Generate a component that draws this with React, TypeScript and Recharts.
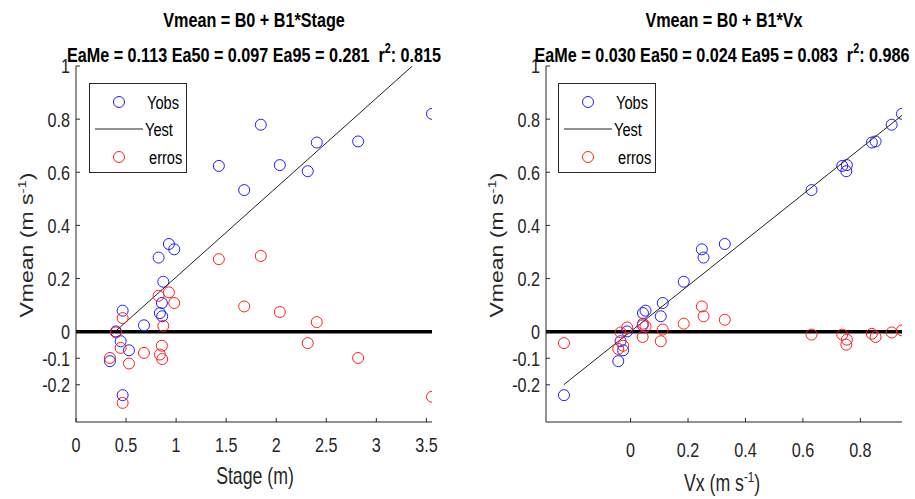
import React from 'react';
import { ScatterChart, Scatter, XAxis, YAxis, ReferenceLine } from 'recharts';

// observations (one entry per gauging)
const stage = [3.556, 1.846, 2.405, 2.818, 1.427, 2.036, 2.315, 1.68, 0.928, 0.981, 0.825, 0.872, 0.858, 0.861, 0.838, 0.466, 0.679, 0.399, 0.446, 0.529, 0.339, 0.466];
const vx = [0.945, 0.909, 0.84, 0.853, 0.737, 0.753, 0.751, 0.63, 0.328, 0.248, 0.254, 0.185, 0.112, 0.105, 0.043, 0.052, 0.042, -0.012, -0.035, -0.026, -0.043, -0.232];
const vmean = [0.82, 0.779, 0.712, 0.716, 0.624, 0.627, 0.604, 0.533, 0.33, 0.31, 0.279, 0.188, 0.108, 0.058, 0.07, 0.079, 0.024, 0.001, -0.036, -0.07, -0.111, -0.239];
const errStage = [-0.245, 0.285, 0.036, -0.099, 0.273, 0.074, -0.043, 0.095, 0.148, 0.108, 0.135, 0.022, -0.053, -0.103, -0.086, 0.051, -0.08, -0.003, -0.061, -0.12, -0.099, -0.268];
const errVx = [0.005, -0.003, -0.008, -0.02, -0.011, -0.03, -0.049, -0.011, 0.045, 0.095, 0.058, 0.03, 0.008, -0.036, 0.03, 0.02, -0.02, 0.016, -0.003, -0.053, -0.065, -0.043];

// fitted lines (end points)
const fitStageX = [0.39, 3.36];
const fitStageY = [0.0, 1.0];
const fitVxX = [-0.232, 0.945];
const fitVxY = [-0.199, 0.814];

const yTicks = [-0.2, -0.1, 0, 0.2, 0.4, 0.6, 0.8, 1];
const stageTicks = [0, 0.5, 1, 1.5, 2, 2.5, 3, 3.5];
const vxTicks = [0, 0.2, 0.4, 0.6, 0.8];

const pairs = (xs: number[], ys: number[]) => xs.map((x, i) => ({ x, y: ys[i] }));

const FONT = "'Liberation Sans', Arial, sans-serif";
const SX = 0.77; // the original figure is squeezed horizontally
const AXIS = '#262626';
const BLUE = '#1f1fff';
const RED = '#ff2020';

const ring = (color: string) => (props: any) => (
  <circle cx={props.cx} cy={props.cy} r={5.5} fill="none" stroke={color} strokeWidth={1} />
);
const nothing = () => <g />;

const fmt = (v: number) => String(v);

const XTick = (props: any) => (
  <text transform={`translate(${props.x},${props.y}) scale(${SX},1)`} textAnchor="middle" dy="0.71em"
    fontSize={21} fill={AXIS} fontFamily={FONT}>
    {fmt(props.payload.value)}
  </text>
);

const YTick = (props: any) => (
  <text transform={`translate(${props.x},${props.y}) scale(${SX},1)`} textAnchor="end" dy="0.355em"
    fontSize={21} fill={AXIS} fontFamily={FONT}>
    {fmt(props.payload.value)}
  </text>
);

// horizontally squeezed text
const SText = ({ x, y, children, ...rest }: any) => (
  <text transform={`translate(${x},${y}) scale(${SX},1)`} {...rest}>{children}</text>
);

interface PanelProps {
  width: number;
  yAxisWidth: number;
  right: number;
  xDomain: [number, number];
  xTicks: number[];
  xTickMargin: number;
  obs: { x: number; y: number }[];
  err: { x: number; y: number }[];
  fit: { x: number; y: number }[];
}

const Panel = ({ width, yAxisWidth, right, xDomain, xTicks, xTickMargin, obs, err, fit }: PanelProps) => (
  <ScatterChart width={width} height={499} margin={{ top: 66, right, bottom: 47, left: 0 }}>
    <XAxis
      type="number"
      dataKey="x"
      domain={xDomain}
      ticks={xTicks}
      allowDataOverflow
      height={30}
      tickSize={-4}
      tickMargin={xTickMargin}
      stroke={AXIS}
      tick={<XTick />}
      interval={0}
    />
    <YAxis
      type="number"
      dataKey="y"
      domain={[-0.34, 1]}
      ticks={yTicks}
      allowDataOverflow
      width={yAxisWidth}
      tickSize={-4}
      tickMargin={10}
      stroke={AXIS}
      tick={<YTick />}
      interval={0}
    />
    <Scatter data={obs} shape={ring(BLUE)} isAnimationActive={false} />
    <Scatter data={fit} shape={nothing} line={{ stroke: '#222', strokeWidth: 1 }} isAnimationActive={false} />
    <Scatter data={err} shape={ring(RED)} isAnimationActive={false} />
    <ReferenceLine y={0} stroke="#000" strokeWidth={3.5} />
  </ScatterChart>
);

const LegendBox = ({ dx }: { dx: number }) => (
  <g transform={`translate(${dx},0)`}>
    <rect x={89.5} y={83.5} width={97} height={89} fill="#fff" stroke={AXIS} strokeWidth={1} />
    <circle cx={119} cy={102} r={5.5} fill="none" stroke={BLUE} />
    <line x1={95} x2={143} y1={129} y2={129} stroke="#222" strokeWidth={1} />
    <circle cx={119} cy={157} r={5.5} fill="none" stroke={RED} />
    <SText x={147} y={108.5} fontSize={19} fill="#000">Yobs</SText>
    <SText x={145} y={136} fontSize={19} fill="#000">Yest</SText>
    <SText x={149} y={163.5} fontSize={19} fill="#000">erros</SText>
  </g>
);

const YLabel = ({ x }: { x: number }) => (
  <text transform={`translate(${x},245) scale(${SX},1) rotate(-90)`} textAnchor="middle" fontSize={23} fill={AXIS}>
    Vmean (m s<tspan dy={-9} fontSize={15}>-1</tspan><tspan dy={9}>)</tspan>
  </text>
);

export default function App() {
  return (
    <div style={{ position: 'absolute', left: 0, top: 0, width: 915, height: 499, background: '#fff', fontFamily: FONT }}>
      <div style={{ position: 'absolute', left: 0, top: 0 }}>
        <Panel
          width={460}
          yAxisWidth={76}
          right={28}
          xDomain={[0, 3.556]}
          xTicks={stageTicks}
          xTickMargin={19}
          obs={pairs(stage, vmean)}
          err={pairs(stage, errStage)}
          fit={pairs(fitStageX, fitStageY)}
        />
      </div>
      <div style={{ position: 'absolute', left: 460, top: 0 }}>
        <Panel
          width={455}
          yAxisWidth={86}
          right={13}
          xDomain={[-0.2946, 0.945]}
          xTicks={vxTicks}
          xTickMargin={24}
          obs={pairs(vx, vmean)}
          err={pairs(vx, errVx)}
          fit={pairs(fitVxX, fitVxY)}
        />
      </div>
      <svg width={915} height={499} style={{ position: 'absolute', left: 0, top: 0, pointerEvents: 'none' }} fontFamily={FONT}>
        <g fontWeight="bold" fontSize={21} fill="#000" textAnchor="middle">
          <SText x={254} y={26.5}>Vmean = B0 + B1*Stage</SText>
          <SText x={254} y={61.5}>
            EaMe = 0.113 Ea50 = 0.097 Ea95 = 0.281 {'\u00a0'}r<tspan dy={-9} fontSize={14}>2</tspan><tspan dy={9}>: 0.815</tspan>
          </SText>
          <SText x={724} y={26.5}>Vmean = B0 + B1*Vx</SText>
          <SText x={722} y={61.5}>
            EaMe = 0.030 Ea50 = 0.024 Ea95 = 0.083 {'\u00a0'}r<tspan dy={-9} fontSize={14}>2</tspan><tspan dy={9}>: 0.986</tspan>
          </SText>
        </g>
        <g fontSize={23} fill={AXIS} textAnchor="middle">
          <YLabel x={33} />
          <YLabel x={503} />
          <SText x={255} y={484}>Stage (m)</SText>
          <SText x={722} y={491}>
            Vx (m s<tspan dy={-9} fontSize={15}>-1</tspan><tspan dy={9}>)</tspan>
          </SText>
        </g>
        <LegendBox dx={0} />
        <LegendBox dx={469} />
      </svg>
    </div>
  );
}
